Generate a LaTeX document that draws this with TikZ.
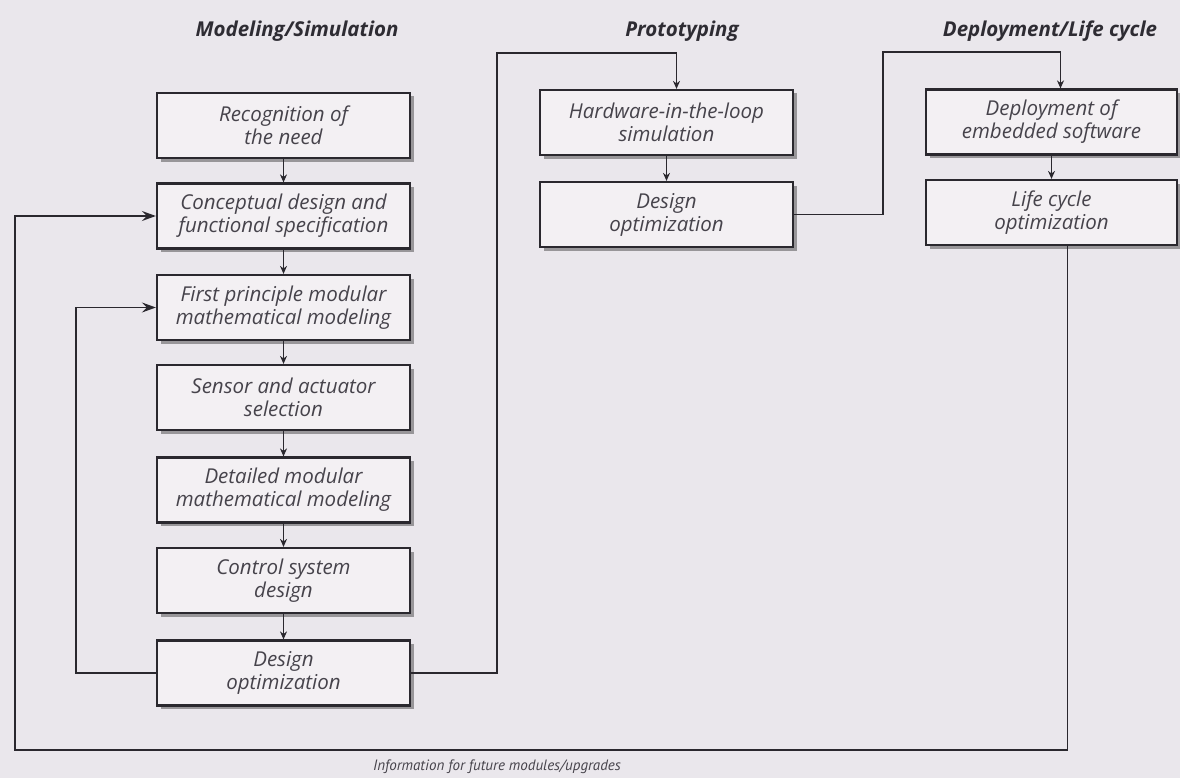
\documentclass[tikz,border=0pt]{standalone}
\usepackage{fontspec}
\setmainfont{Open Sans}
\newfontfamily\labfont{PT Sans}
\usetikzlibrary{arrows.meta,shadows}
\definecolor{bgcol}{HTML}{EAE7EC}
\definecolor{boxfill}{HTML}{F3F0F3}
\definecolor{linecol}{HTML}{2A282E}
\definecolor{txtcol}{HTML}{46434B}
\definecolor{ttlcol}{HTML}{2E2C33}
\tikzset{
  box/.style={draw=linecol, line width=2.2bp, fill=boxfill, minimum width=253bp,
    minimum height=65bp, align=center, text=txtcol, inner sep=1bp,
    font=\fontsize{20.5bp}{23bp}\selectfont\itshape,
    drop shadow={shadow xshift=3.5bp, shadow yshift=-3.5bp, fill=black, opacity=0.35}},
  arr/.style={draw=linecol, line width=1.8bp, -{Stealth[length=8bp,width=7bp]}},
  bigarr/.style={draw=linecol, line width=1.8bp, -{Stealth[length=14bp,width=10bp,inset=5bp]}},
  ttl/.style={text=ttlcol, font=\fontsize{20.5bp}{23bp}\selectfont\bfseries\itshape},
  note/.style={text=txtcol, font=\labfont\fontsize{15bp}{17bp}\selectfont\itshape}
}
\begin{document}
\begin{tikzpicture}[x=1bp,y=-1bp]
\fill[bgcol] (0,0) rectangle (1180,778);
% titles
\node[ttl] (t1) at (297,31) {Modeling/Simulation};
\node[ttl] (t2) at (682,31) {Prototyping};
\node[ttl] (t3) at (1050,31) {Deployment/Life cycle};
% left column
\node[box] (b1) at (283.5,125.5) {Recognition of\\the need};
\node[box] (b2) at (283.5,216) {Conceptual design and\\functional specification};
\node[box] (b3) at (283.5,307.5) {First principle modular\\mathematical modeling};
\node[box] (b4) at (283.5,397.5) {Sensor and actuator\\selection};
\node[box] (b5) at (283.5,490) {Detailed modular\\mathematical modeling};
\node[box] (b6) at (283.5,580.5) {Control system\\design};
\node[box] (b7) at (283.5,673) {Design\\optimization};
% middle column
\node[box] (h1) at (666.5,122.5) {Hardware-in-the-loop\\simulation};
\node[box] (h2) at (666.5,214.5) {Design\\optimization};
% right column
\node[box, minimum width=251bp] (d1) at (1051.5,122) {Deployment of\\embedded software};
\node[box, minimum width=251bp] (d2) at (1051.5,212.5) {Life cycle\\optimization};
% bottom label
\node[note] (lab) at (497,767) {Information for future modules/upgrades};
% vertical arrows
\draw[arr] (b1) -- (b2);
\draw[arr] (b2) -- (b3);
\draw[arr] (b3) -- (b4);
\draw[arr] (b4) -- (b5);
\draw[arr] (b5) -- (b6);
\draw[arr] (b6) -- (b7);
\draw[arr] (h1) -- (h2);
\draw[arr] (d1) -- (d2);
% cross-phase connectors
\draw[arr] (b7.east) -| (497,53) -| ([xshift=10bp]h1.north);
\draw[arr] (h2.east) -| (883,52) -| ([xshift=9bp]d1.north);
% feedback loops
\draw[bigarr] (b7.west) -- ++(-80,0) |- (b3.west);
\draw[bigarr] ([xshift=16bp]d2.south) |- (15,750) |- (b2.west);
\end{tikzpicture}
\end{document}
